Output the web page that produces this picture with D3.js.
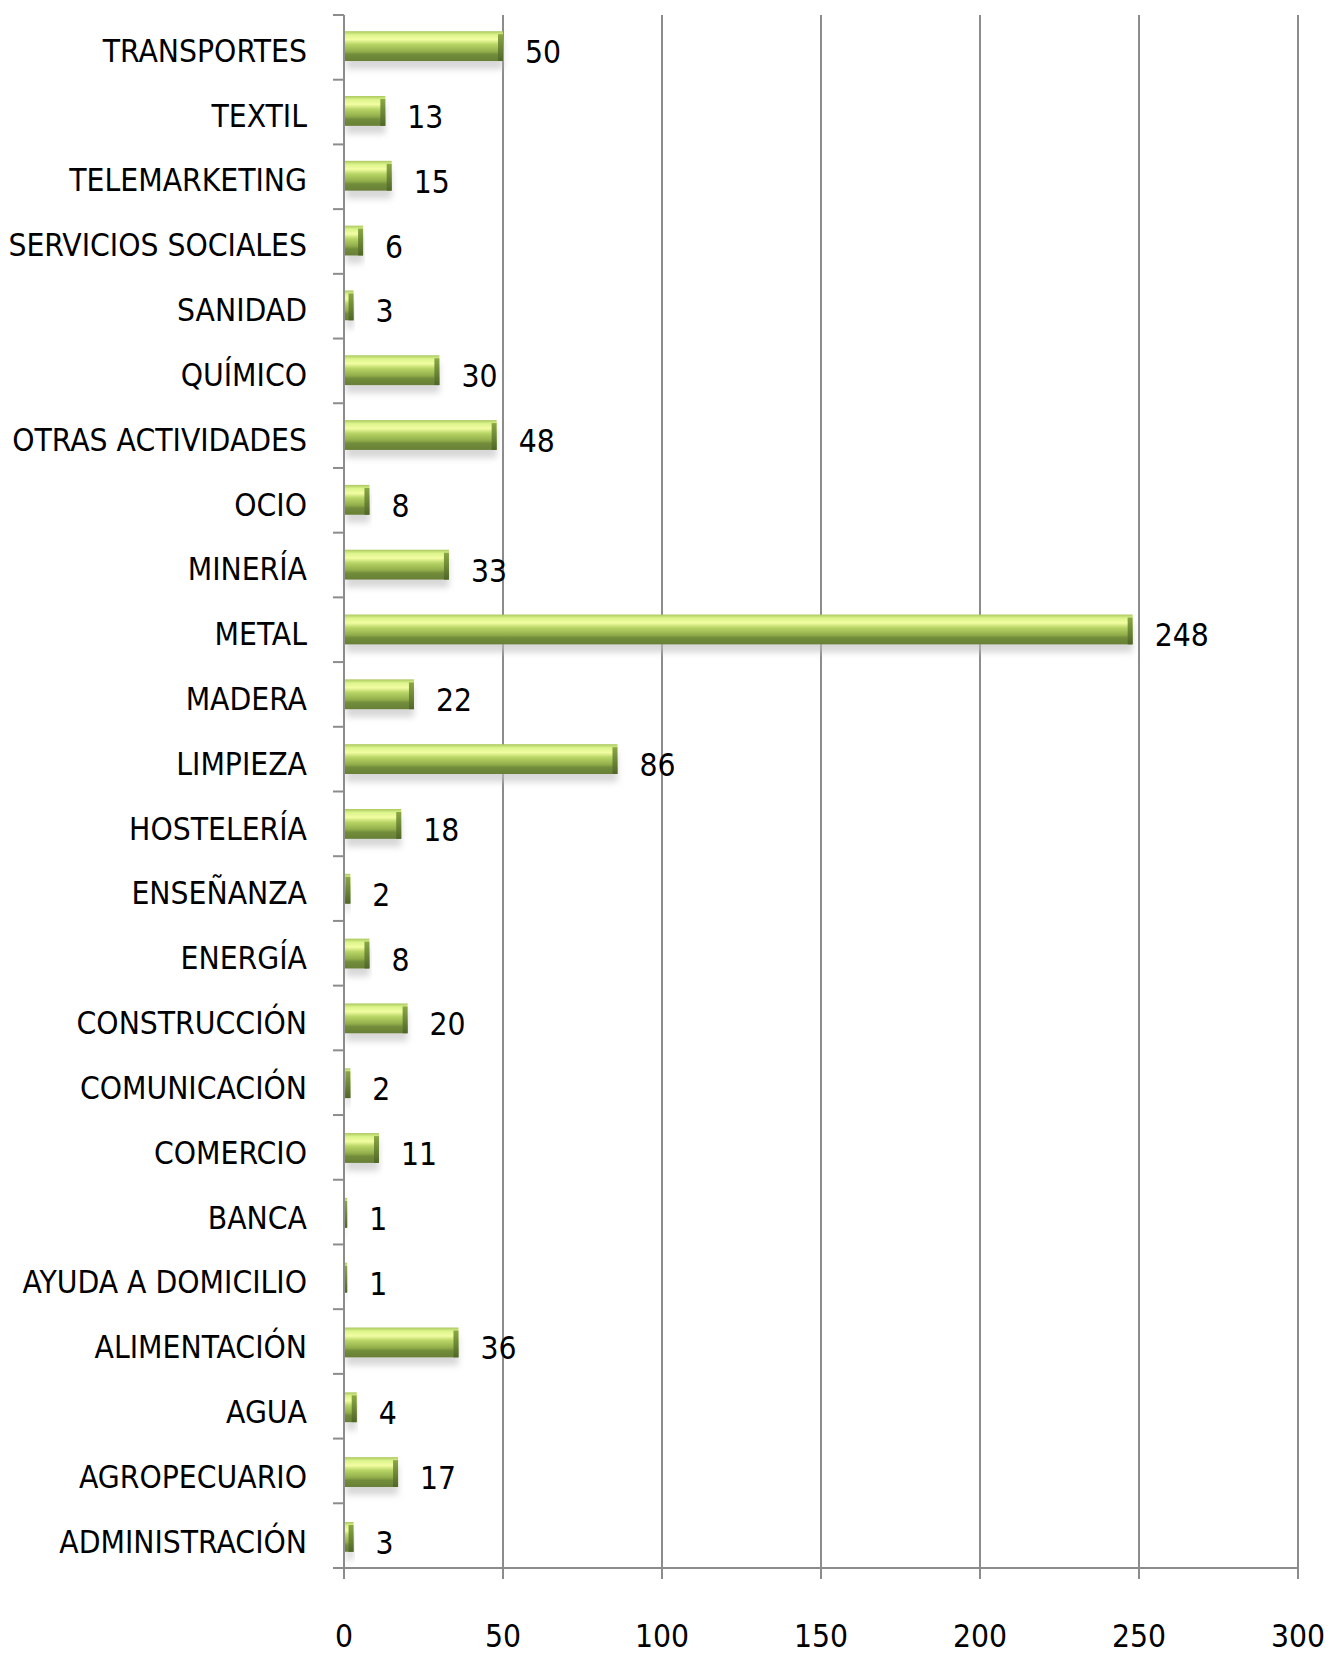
<!DOCTYPE html>
<html>
<head>
<meta charset="utf-8">
<script src="https://cdnjs.cloudflare.com/ajax/libs/d3/7.8.5/d3.min.js"></script>
<style>
body { margin:0; background:#fff; }
text { font-family: "Liberation Sans Narrow", "DejaVu Sans Condensed", "Open Sans", sans-serif; fill:#000; }
</style>
</head>
<body>
<div id="chart"></div>
<script>
// categories listed bottom to top as in the source sheet
var sectors = ["ADMINISTRACIÓN","AGROPECUARIO","AGUA","ALIMENTACIÓN","AYUDA A DOMICILIO","BANCA","COMERCIO",
  "COMUNICACIÓN","CONSTRUCCIÓN","ENERGÍA","ENSEÑANZA","HOSTELERÍA","LIMPIEZA","MADERA","METAL","MINERÍA",
  "OCIO","OTRAS ACTIVIDADES","QUÍMICO","SANIDAD","SERVICIOS SOCIALES","TELEMARKETING","TEXTIL","TRANSPORTES"]
var counts = [3,17,4,36,1,1,11,2,20,8,2,18,86,22,248,33,8,48,30,3,6,15,13,50]
var xTicks = [0,50,100,150,200,250,300]

var data = sectors.map(function(s,i){ return {name:s, value:counts[i]} }).reverse()

var W = 1334, H = 1654
var fs = 31.5
var svg = d3.select("#chart").append("svg")
    .attr("width",W).attr("height",H)

var x = d3.scaleLinear().domain([0,300]).range([344,1298])
var y = d3.scaleBand().domain(data.map(function(d){return d.name}))
    .range([15,1568]).paddingInner(0.54).paddingOuter(0.25)

var defs = svg.append("defs")
var grad = defs.append("linearGradient").attr("id","barGrad")
    .attr("x1","0%").attr("y1","0%").attr("x2","0%").attr("y2","100%")
grad.append("stop").attr("offset","0%").attr("stop-color","#a9c85c")
grad.append("stop").attr("offset","12%").attr("stop-color","#dcf48c")
grad.append("stop").attr("offset","28%").attr("stop-color","#f2fda2")
grad.append("stop").attr("offset","44%").attr("stop-color","#b8d566")
grad.append("stop").attr("offset","68%").attr("stop-color","#92ae4b")
grad.append("stop").attr("offset","78%").attr("stop-color","#718d3b")
grad.append("stop").attr("offset","100%").attr("stop-color","#687f36")

var capGrad = defs.append("linearGradient").attr("id","capGrad")
    .attr("x1","0%").attr("y1","0%").attr("x2","0%").attr("y2","100%")
capGrad.append("stop").attr("offset","0%").attr("stop-color","#8aa844")
capGrad.append("stop").attr("offset","100%").attr("stop-color","#4f6628")

var blur = defs.append("filter").attr("id","shadow")
    .attr("x","-10%").attr("y","-50%").attr("width","120%").attr("height","200%")
blur.append("feGaussianBlur").attr("stdDeviation",3)

// grid
svg.append("g").selectAll("line")
    .data(xTicks.slice(1))
    .enter().append("line")
    .attr("x1",function(d){return x(d)}).attr("x2",function(d){return x(d)})
    .attr("y1",15).attr("y2",1579)
    .attr("stroke","#8c8c8c").attr("stroke-width",2)

// shadows
svg.append("g").selectAll("rect")
    .data(data)
    .enter().append("rect")
    .attr("x",x(0)+2)
    .attr("y",function(d){return y(d.name)+8})
    .attr("width",function(d){return Math.max(x(d.value)-x(0)-2,1)})
    .attr("height",y.bandwidth())
    .attr("fill","#bdbdbd").attr("opacity",0.6)
    .attr("filter","url(#shadow)")

// bars
var bars = svg.append("g").selectAll("g")
    .data(data)
    .enter().append("g")
bars.append("rect")
    .attr("x",x(0))
    .attr("y",function(d){return y(d.name)})
    .attr("width",function(d){return x(d.value)-x(0)})
    .attr("height",y.bandwidth())
    .attr("fill","url(#barGrad)")
bars.append("rect")
    .attr("x",function(d){return Math.max(x(d.value)-5,x(0))})
    .attr("y",function(d){return y(d.name)+3})
    .attr("width",function(d){return Math.min(5,x(d.value)-x(0))})
    .attr("height",y.bandwidth()-3)
    .attr("fill","url(#capGrad)")

// value labels
bars.append("text")
    .attr("x",function(d){return x(d.value)+22})
    .attr("y",function(d){return y(d.name)+y.bandwidth()/2+17})
    .attr("font-size",fs)
    .text(function(d){return d.value})

// y axis
var yAxis = d3.axisLeft(y).tickSize(0).tickPadding(37)
var gy = svg.append("g").attr("transform","translate("+x(0)+",0)").call(yAxis)
gy.select(".domain").remove()
gy.attr("font-family",null).attr("font-size",null)
gy.selectAll("text").attr("font-size",fs).attr("dy","0.5em")
svg.append("line").attr("x1",x(0)).attr("x2",x(0)).attr("y1",15).attr("y2",1579)
    .attr("stroke","#8c8c8c").attr("stroke-width",2)
var bounds = d3.range(25).map(function(i){return 15+i*(1568-15)/24})
svg.append("g").selectAll("line").data(bounds).enter().append("line")
    .attr("x1",x(0)-11).attr("x2",x(0))
    .attr("y1",function(d){return d}).attr("y2",function(d){return d})
    .attr("stroke","#8c8c8c").attr("stroke-width",2)

// x axis
svg.append("line").attr("x1",x(0)-11).attr("x2",x(300)).attr("y1",1568).attr("y2",1568)
    .attr("stroke","#8c8c8c").attr("stroke-width",2)
svg.append("g").selectAll("text")
    .data(xTicks).enter().append("text")
    .attr("x",function(d){return x(d)})
    .attr("y",1647)
    .attr("text-anchor","middle")
    .attr("font-size",fs)
    .text(function(d){return d})
</script>
</body>
</html>
